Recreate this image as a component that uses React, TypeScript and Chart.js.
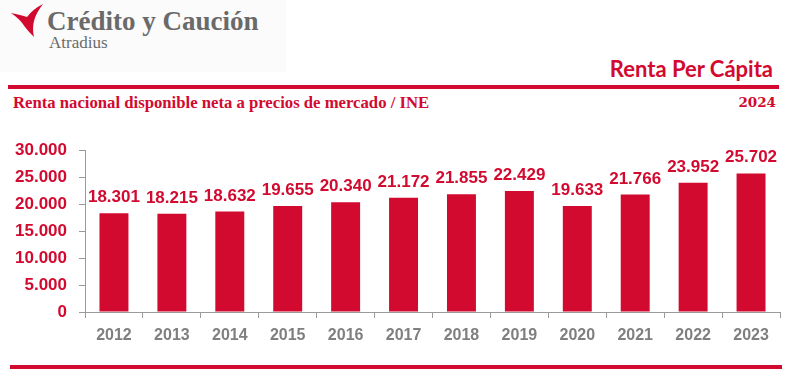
import React, { useEffect, useRef } from "react";
import { Chart, registerables } from "chart.js";

Chart.register(...registerables);

const RED = "#D20A2F";
const GRAY_TEXT = "#7f7f7f";
const AXIS_GRAY = "#9a9a9a";

const years = ["2012", "2013", "2014", "2015", "2016", "2017", "2018", "2019", "2020", "2021", "2022", "2023"];
const rentaPerCapita = [18301, 18215, 18632, 19655, 20340, 21172, 21855, 22429, 19633, 21766, 23952, 25702];
const yMin = 0;
const yMax = 30000;
const yStep = 5000;

const title = "Renta Per Cápita";
const subtitle = "Renta nacional disponible neta a precios de mercado / INE";
const yearLabel = "2024";

function fmt(n: number): string {
  const s = Math.round(n).toString();
  return s.replace(/\B(?=(\d{3})+(?!\d))/g, ".");
}

const barLabels = {
  id: "barLabels",
  afterDatasetsDraw(chart: any) {
    const ctx = chart.ctx;
    const meta = chart.getDatasetMeta(0);
    ctx.save();
    ctx.font = 'bold 17px "Liberation Sans", Arial, sans-serif';
    ctx.fillStyle = RED;
    ctx.textAlign = "center";
    ctx.textBaseline = "alphabetic";
    meta.data.forEach((bar: any, i: number) => {
      ctx.fillText(fmt(rentaPerCapita[i]), bar.x, bar.y - 11);
    });
    ctx.restore();
  },
};

function ChartBox() {
  const ref = useRef<HTMLCanvasElement | null>(null);
  useEffect(() => {
    if (!ref.current) return;
    const chart = new Chart(ref.current, {
      type: "bar",
      data: {
        labels: years,
        datasets: [
          {
            data: rentaPerCapita,
            backgroundColor: RED,
            borderWidth: 0,
            barPercentage: 0.5,
            categoryPercentage: 1,
          },
        ],
      },
      options: {
        animation: false,
        responsive: false,
        devicePixelRatio: 1,
        layout: { padding: { top: 8, right: 10, left: 0, bottom: 0 } },
        plugins: { legend: { display: false }, tooltip: { enabled: false } },
        scales: {
          x: {
            grid: { offset: true, drawOnChartArea: false, drawTicks: true, tickLength: 6, color: AXIS_GRAY },
            border: { display: true, color: AXIS_GRAY, width: 1 },
            ticks: {
              color: GRAY_TEXT,
              font: { family: '"Liberation Sans", Arial, sans-serif', size: 16, weight: "bold" },
              padding: 8,
              maxRotation: 0,
            },
            afterFit: (s: any) => {
              s.height = 38;
            },
          },
          y: {
            min: yMin,
            max: yMax,
            grid: { drawOnChartArea: false, drawTicks: true, tickLength: 6, color: AXIS_GRAY },
            border: { display: true, color: AXIS_GRAY, width: 1 },
            ticks: {
              stepSize: yStep,
              color: RED,
              font: { family: '"Liberation Sans", Arial, sans-serif', size: 17, weight: "bold" },
              padding: 12,
              callback: (v: any) => fmt(Number(v)),
            },
            afterFit: (s: any) => {
              s.width = 85;
            },
          },
        },
      },
      plugins: [barLabels],
    });
    return () => chart.destroy();
  }, []);
  return <canvas ref={ref} width={790} height={222} style={{ position: "absolute", left: 0, top: 128 }} />;
}

export default function App() {
  useEffect(() => {
    document.body.style.margin = "0";
  }, []);
  return (
    <div style={{ position: "relative", width: 795, height: 386, background: "#fff", overflow: "hidden" }}>
      {/* logo */}
      <div style={{ position: "absolute", left: 0, top: 0, width: 286, height: 72, background: "#fbfbfb" }} />
      <svg width={50} height={42} style={{ position: "absolute", left: 0, top: 0 }}>
        <path
          d="M11,13 Q21,15 27,17 Q33,9 43,4 Q36,13 34,21 Q32,29 34,37 Q28,31 25,27 Q20,19 11,13 Z"
          fill={RED}
        />
      </svg>
      <div
        style={{
          position: "absolute",
          left: 47,
          top: 4,
          fontFamily: '"Liberation Serif", serif',
          fontWeight: "bold",
          fontSize: 27,
          color: "#6a6a6a",
          whiteSpace: "nowrap",
          lineHeight: "34px",
        }}
      >
        Crédito y Caución
      </div>
      <div
        style={{
          position: "absolute",
          left: 49,
          top: 33,
          fontFamily: '"Liberation Serif", serif',
          fontSize: 17,
          color: "#6a6a6a",
          whiteSpace: "nowrap",
          lineHeight: "20px",
        }}
      >
        Atradius
      </div>

      {/* title */}
      <div
        style={{
          position: "absolute",
          right: 22,
          top: 55,
          fontFamily: "Lato, sans-serif",
          fontWeight: "bold",
          fontSize: 22,
          color: RED,
          whiteSpace: "nowrap",
          lineHeight: "27px",
        }}
      >
        {title}
      </div>
      <div style={{ position: "absolute", left: 8, top: 85, width: 771, height: 4, background: RED }} />
      <div
        style={{
          position: "absolute",
          left: 13,
          top: 92,
          fontFamily: '"Liberation Serif", serif',
          fontWeight: "bold",
          fontSize: 16.7,
          color: RED,
          whiteSpace: "nowrap",
          lineHeight: "21px",
        }}
      >
        {subtitle}
      </div>
      <div
        style={{
          position: "absolute",
          right: 19,
          top: 93,
          fontFamily: '"DejaVu Serif", serif',
          fontWeight: "bold",
          fontSize: 13.5,
          color: RED,
          whiteSpace: "nowrap",
          lineHeight: "18px",
        }}
      >
        {yearLabel}
      </div>

      <ChartBox />

      <div style={{ position: "absolute", left: 10, top: 365, width: 772, height: 4, background: RED }} />
    </div>
  );
}
